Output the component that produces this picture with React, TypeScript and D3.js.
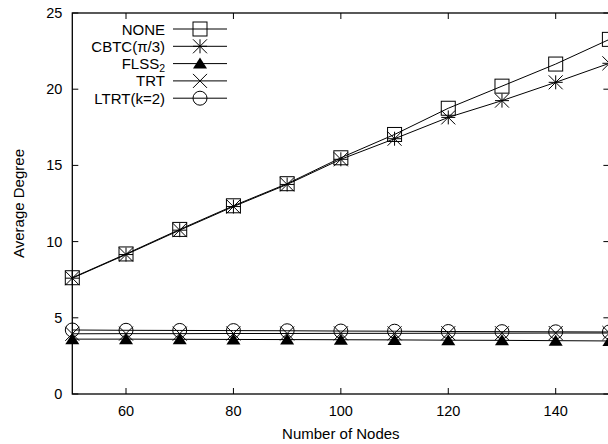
import * as d3 from "d3";
import React from "react";

const nodes = [50, 60, 70, 80, 90, 100, 110, 120, 130, 140, 150];
const noneDeg = [7.63, 9.19, 10.8, 12.35, 13.8, 15.5, 17.03, 18.75, 20.2, 21.65, 23.27];
const cbtcDeg = [7.6, 9.15, 10.75, 12.3, 13.75, 15.4, 16.75, 18.15, 19.25, 20.45, 21.7];
const flssDeg = [3.6, 3.6, 3.59, 3.58, 3.57, 3.56, 3.55, 3.53, 3.52, 3.5, 3.48];
const trtDeg = [3.95, 3.96, 3.96, 3.97, 3.97, 3.98, 3.98, 3.99, 3.99, 4.0, 4.0];
const ltrtDeg = [4.2, 4.18, 4.17, 4.16, 4.15, 4.13, 4.12, 4.1, 4.09, 4.08, 4.07];
const xTickVals = [60, 80, 100, 120, 140];
const yTickVals = [0, 5, 10, 15, 20, 25];

const font = "'Liberation Sans', Arial, Helvetica, sans-serif";

function Marker({ kind, x, y }) {
  const s = 7;
  if (kind === "square") {
    return <rect x={x - s} y={y - s} width={2 * s} height={2 * s} fill="none" stroke="black" strokeWidth="1" />;
  }
  if (kind === "star") {
    return (
      <g stroke="black" strokeWidth="1">
        <line x1={x - s} y1={y - s} x2={x + s} y2={y + s} />
        <line x1={x - s} y1={y + s} x2={x + s} y2={y - s} />
        <line x1={x} y1={y - s} x2={x} y2={y + s} />
        <line x1={x - s} y1={y} x2={x + s} y2={y} />
      </g>
    );
  }
  if (kind === "cross") {
    return (
      <g stroke="black" strokeWidth="1">
        <line x1={x - s} y1={y - s} x2={x + s} y2={y + s} />
        <line x1={x - s} y1={y + s} x2={x + s} y2={y - s} />
      </g>
    );
  }
  if (kind === "triangle") {
    return <path d={`M${x},${y - 6}L${x + 7},${y + 5}L${x - 7},${y + 5}Z`} fill="black" />;
  }
  return <circle cx={x} cy={y} r={s} fill="none" stroke="black" strokeWidth="1" />;
}

export default function App() {
  const width = 608;
  const height = 444;
  const left = 72.3;
  const right = 609.4;
  const top = 13;
  const bottom = 394;

  const x = d3.scaleLinear().domain([50, 150]).range([left, right]);
  const y = d3.scaleLinear().domain([0, 25]).range([bottom, top]);

  const series = [
    { label: "NONE", values: noneDeg, kind: "square" },
    { label: "CBTC(π/3)", values: cbtcDeg, kind: "star" },
    { label: "FLSS2", values: flssDeg, kind: "triangle" },
    { label: "TRT", values: trtDeg, kind: "cross" },
    { label: "LTRT(k=2)", values: ltrtDeg, kind: "circle" },
  ];

  const line = d3
    .line<number>()
    .x((_, i) => x(nodes[i]))
    .y((d) => y(d));

  return (
    <svg
      width={width}
      height={height}
      style={{ position: "absolute", left: 0, top: 0, background: "white" }}
      fontFamily={font}
    >
      <rect x="0" y="0" width={width} height={height} fill="white" />
      {/* frame */}
      <g stroke="black" strokeWidth="1.3" fill="none">
        <rect x={left} y={top} width={right - left} height={bottom - top} />
      </g>
      {/* x ticks */}
      {xTickVals.map((t) => (
        <g key={"x" + t}>
          <line x1={x(t)} y1={bottom} x2={x(t)} y2={bottom - 6} stroke="black" />
          <line x1={x(t)} y1={top} x2={x(t)} y2={top + 6} stroke="black" />
          <text x={x(t)} y={bottom + 17} textAnchor="middle" fontSize="14.5" dominantBaseline="central">
            {t}
          </text>
        </g>
      ))}
      {/* y ticks */}
      {yTickVals.map((t) => (
        <g key={"y" + t}>
          <line x1={left} y1={y(t)} x2={left + 6} y2={y(t)} stroke="black" />
          <line x1={right} y1={y(t)} x2={right - 6} y2={y(t)} stroke="black" />
          <text x={left - 10} y={y(t)} textAnchor="end" fontSize="14.5" dominantBaseline="central">
            {t}
          </text>
        </g>
      ))}
      <text x={(left + right) / 2} y={433} textAnchor="middle" fontSize="15" dominantBaseline="central">
        Number of Nodes
      </text>
      <text
        transform={`translate(18,${(top + bottom) / 2}) rotate(-90)`}
        textAnchor="middle"
        fontSize="15"
        dominantBaseline="central"
      >
        Average Degree
      </text>
      {/* series */}
      {series.map((s) => (
        <g key={s.label}>
          <path d={line(s.values) || ""} fill="none" stroke="black" strokeWidth="1" />
          {s.values.map((v, i) => (
            <Marker key={i} kind={s.kind} x={x(nodes[i])} y={y(v)} />
          ))}
        </g>
      ))}
      {/* legend */}
      {series.map((s, i) => {
        const ly = 29 + i * 17.3;
        return (
          <g key={"leg" + s.label}>
            <text x={165} y={ly} textAnchor="end" fontSize="15" dominantBaseline="central">
              {s.label === "FLSS2" ? (
                <>
                  FLSS<tspan fontSize="10.5" dy="4">2</tspan>
                </>
              ) : (
                s.label
              )}
            </text>
            <line x1={173} y1={ly} x2={227} y2={ly} stroke="black" strokeWidth="1" />
            <Marker kind={s.kind} x={200} y={ly} />
          </g>
        );
      })}
    </svg>
  );
}
